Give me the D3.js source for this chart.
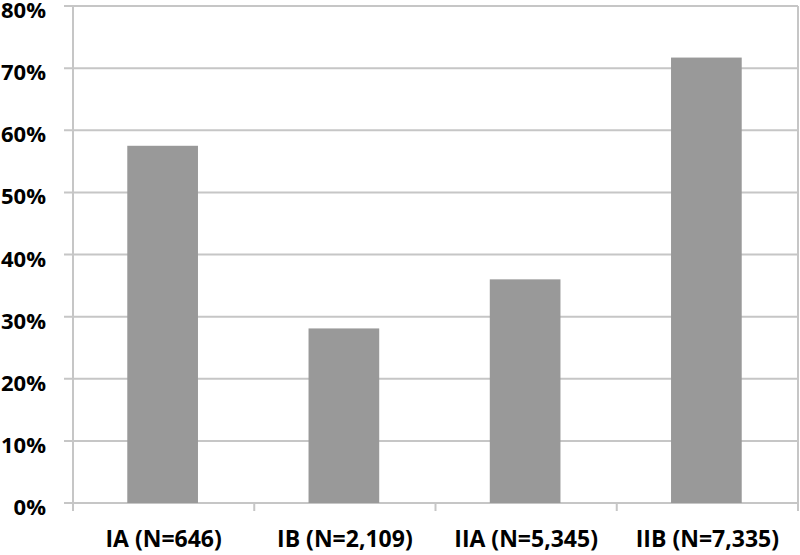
<!DOCTYPE html>
<html>
<head>
<meta charset="utf-8">
<script src="https://cdn.jsdelivr.net/npm/d3@7"></script>
<style>
html,body{margin:0;padding:0;background:#fff;}
svg{display:block;}
</style>
</head>
<body>
<svg id="chart" width="800" height="555"></svg>
<script>
const categories = ["IA (N=646)", "IB (N=2,109)", "IIA (N=5,345)", "IIB (N=7,335)"];
const values = [57.5, 28.1, 36.0, 71.7];
const yTicks = [0, 10, 20, 30, 40, 50, 60, 70, 80];

const svg = d3.select("#chart");
const margin = {left: 73, right: 2, top: 6, bottom: 52};
const W = 800, H = 555;
const innerW = W - margin.left - margin.right;
const innerH = H - margin.top - margin.bottom;

const x = d3.scaleBand().domain(categories).range([margin.left, margin.left + innerW]).paddingInner(0).paddingOuter(0);
const y = d3.scaleLinear().domain([0, 80]).range([margin.top + innerH, margin.top]);

const gridColor = "#c6c6c6";

// gridlines
svg.append("g").selectAll("line").data(yTicks).join("line")
  .attr("x1", margin.left - 9).attr("x2", margin.left + innerW)
  .attr("y1", d => y(d)).attr("y2", d => y(d))
  .attr("stroke", gridColor).attr("stroke-width", 2);

// right border
svg.append("line")
  .attr("x1", margin.left + innerW).attr("x2", margin.left + innerW)
  .attr("y1", y(80)).attr("y2", y(0) + 8)
  .attr("stroke", gridColor).attr("stroke-width", 2);

// bars
const barW = x.bandwidth() * 0.39;
svg.append("g").selectAll("rect").data(values).join("rect")
  .attr("x", (d, i) => x(categories[i]) + x.bandwidth() / 2 - barW / 2 - 1)
  .attr("width", barW)
  .attr("y", d => y(d))
  .attr("height", d => y(0) - y(d))
  .attr("fill", "#999999");

// left axis line
svg.append("line")
  .attr("x1", margin.left).attr("x2", margin.left)
  .attr("y1", y(80)).attr("y2", y(0) + 8)
  .attr("stroke", gridColor).attr("stroke-width", 2);

// category ticks
svg.append("g").selectAll("line").data(categories.slice(1)).join("line")
  .attr("x1", d => x(d)).attr("x2", d => x(d))
  .attr("y1", y(0)).attr("y2", y(0) + 8)
  .attr("stroke", gridColor).attr("stroke-width", 2);

// y tick labels
svg.append("g").selectAll("text").data(yTicks).join("text")
  .attr("x", 46)
  .attr("y", d => y(d) + 12)
  .attr("text-anchor", "end")
  .attr("font-family", "'Open Sans', sans-serif")
  .attr("font-weight", "bold")
  .attr("font-size", 22)
  .attr("fill", "#000")
  .text(d => d + "%");

// category labels
svg.append("g").selectAll("text").data(categories).join("text")
  .attr("x", d => x(d) + x.bandwidth() / 2)
  .attr("y", 547)
  .attr("text-anchor", "middle")
  .attr("font-family", "'Open Sans', sans-serif")
  .attr("font-weight", "bold")
  .attr("font-size", 23)
  .attr("fill", "#000")
  .text(d => d);
</script>
</body>
</html>
